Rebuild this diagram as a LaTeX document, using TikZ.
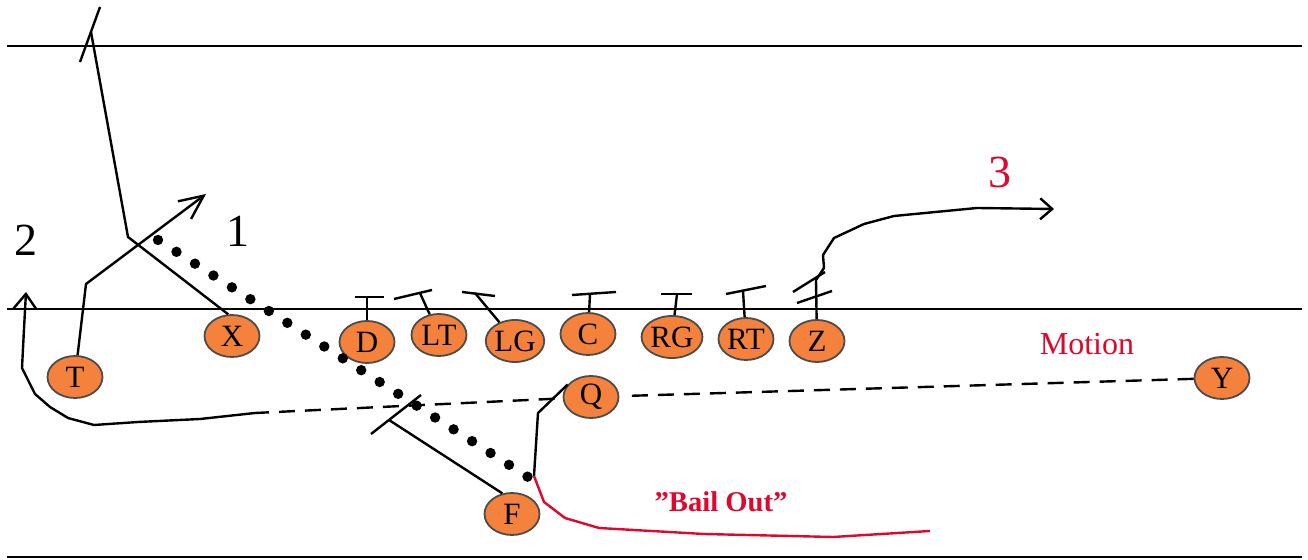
\documentclass[tikz,border=0pt]{standalone}
\usepackage{fontspec}
\setmainfont{Liberation Serif}
\usepackage{tikz}
\usetikzlibrary{arrows.meta, shapes.geometric}
\definecolor{PlayerOrange}{HTML}{F5823C}
\definecolor{PlayRed}{HTML}{E2062C}
\tikzstyle{player} = [ellipse,fill=PlayerOrange,draw=black!70,line width=0.9pt,minimum width=27.5pt,minimum height=21pt,inner sep=0pt,font=\fontsize{15.5}{15.5}\selectfont]
\tikzstyle{route} = [line width=1.2pt,line join=round]
\tikzstyle{motion} = [line width=1.2pt,dash pattern=on 8pt off 5pt]
\tikzstyle{bail} = [line width=1.2pt,color=PlayRed,line join=round]
\tikzstyle{read} = [line width=5.2pt,line cap=round,dash pattern=on 0pt off 10.97pt]
\tikzstyle{field} = [line width=1.35pt]
\tikzstyle{number} = [font=\fontsize{23}{23}\selectfont]
\pgfdeclarelayer{background}
\pgfsetlayers{background,main}

\begin{document}
\begin{tikzpicture}[x=0.5pt,y=-0.5pt]
					\useasboundingbox (0,0) rectangle (1308,560);
					\begin{pgfonlayer}{background}
					\draw[field] (7,46) -- (1302,46);
					\draw[field] (7,309) -- (1302,309);
					\draw[field] (7,557) -- (1302,557);
					\end{pgfonlayer}
					
					\node[player] (T) at (75,377) {T};
					\node[player] (X) at (232,336) {X};
					\node[player] (D) at (367,342) {D};
					\node[player] (LT) at (439,335) {LT};
					\node[player] (LG) at (515,341) {LG};
					\node[player] (C) at (588,334) {C};
					\node[player] (RG) at (672,337) {RG};
					\node[player] (RT) at (746,339) {RT};
					\node[player] (Z) at (817,341) {Z};
					\node[player] (Q) at (591,397) {Q};
					\node[player] (F) at (512,514) {F};
					\node[player] (Y) at (1222,378) {Y};
					
					\coordinate (x1) at (128,237);
					\coordinate (x2) at (91,32);
					\coordinate (t1) at (86,284);
					\coordinate (t2) at (206,194);
					\coordinate (m1) at (255,413);
					\coordinate (s2) at (26,292);
					\coordinate (f1) at (389,420);
					\coordinate (q1) at (538,413);
					\coordinate (q2) at (534,476);
					\coordinate (b1) at (930,531);
					\coordinate (z0) at (816,280);
					\coordinate (z1) at (977,208);
					\coordinate (z2) at (1054,209);
					\coordinate (r1) at (158,240);
					\coordinate (r2) at (528,477);
					\coordinate (d1) at (367,297);
					\coordinate (lt1) at (420,293);
					\coordinate (lg1) at (475,293);
					\coordinate (c1) at (590,294);
					\coordinate (rg1) at (677,294);
					\coordinate (rt1) at (743,291);
					
					\draw[route] (X.100) -- (x1) -- (x2);
					\draw[route] (x2) +(-11,30) -- +(9,-25);
					\draw[route,-{Straight Barb[length=12pt,width=11pt]}] (T) -- (t1) -- (t2);
					
					\draw[motion,shorten >=3pt] (Y) -- (Q);
					\draw[motion,shorten <=4pt] (Q) -- (m1);
					\draw[route,-{Straight Barb[length=7.5pt,width=11.5pt]}] (m1) -- (200,419) -- (138,422) -- (94,425) -- (68,418) -- (50,407) -- (35,394) -- (22,368) -- (24,329) -- (s2);
					
					\draw[route] (F.115) -- (f1);
					\draw[route] (f1) +(-18,14) -- +(32,-25);
					\draw[route] (Q.152) -- (q1) -- (q2);
					\draw[bail] (q2) -- (544,502) -- (565,518) -- (599,528) -- (704,534) -- (833,537) -- (b1);
					
					\draw[route] (D) -- (d1);
					\draw[route] (d1) +(-12,0) -- +(17,0);
					\draw[route] (LT) -- (lt1);
					\draw[route] (lt1) +(-26,6) -- +(12,-3);
					\draw[route] (LG) -- (lg1);
					\draw[route] (lg1) +(-13,-1) -- +(20,3);
					\draw[route] (C) -- (c1);
					\draw[route] (c1) +(-18,1) -- +(26,-2);
					\draw[route] (RG) -- (rg1);
					\draw[route] (rg1) +(-16,0) -- +(15,0);
					\draw[route] (RT) -- (rt1);
					\draw[route] (rt1) +(-17,3) -- +(23,-5);
					
					\draw[route] (Z) -- (z0) -- (824,268) -- (823,255) -- (834,238) -- (864,224) -- (894,216) -- (z1);
					\draw[route,-{Straight Barb[length=6pt,width=10.5pt]}] (z1) -- (z2);
					\draw[route] (z0) +(-19,23) -- +(16,11);
					\draw[route] (z0) +(-23,12) -- +(9,-8);
					
					\draw[read] (r1) -- (r2);
					
					\node[number] (two) at (26,240) {2};
					\node[number] (one) at (238,231) {1};
					\node[number,text=PlayRed] (three) at (1000,173) {3};
					\node[font=\fontsize{16}{16}\selectfont,text=PlayRed] (motion) at (1087,344) {Motion};
					\node[font=\bfseries\fontsize{14.3}{14.3}\selectfont,text=PlayRed] (bailout) at (721,502) {”Bail Out”};
					
\end{tikzpicture}
\end{document}
